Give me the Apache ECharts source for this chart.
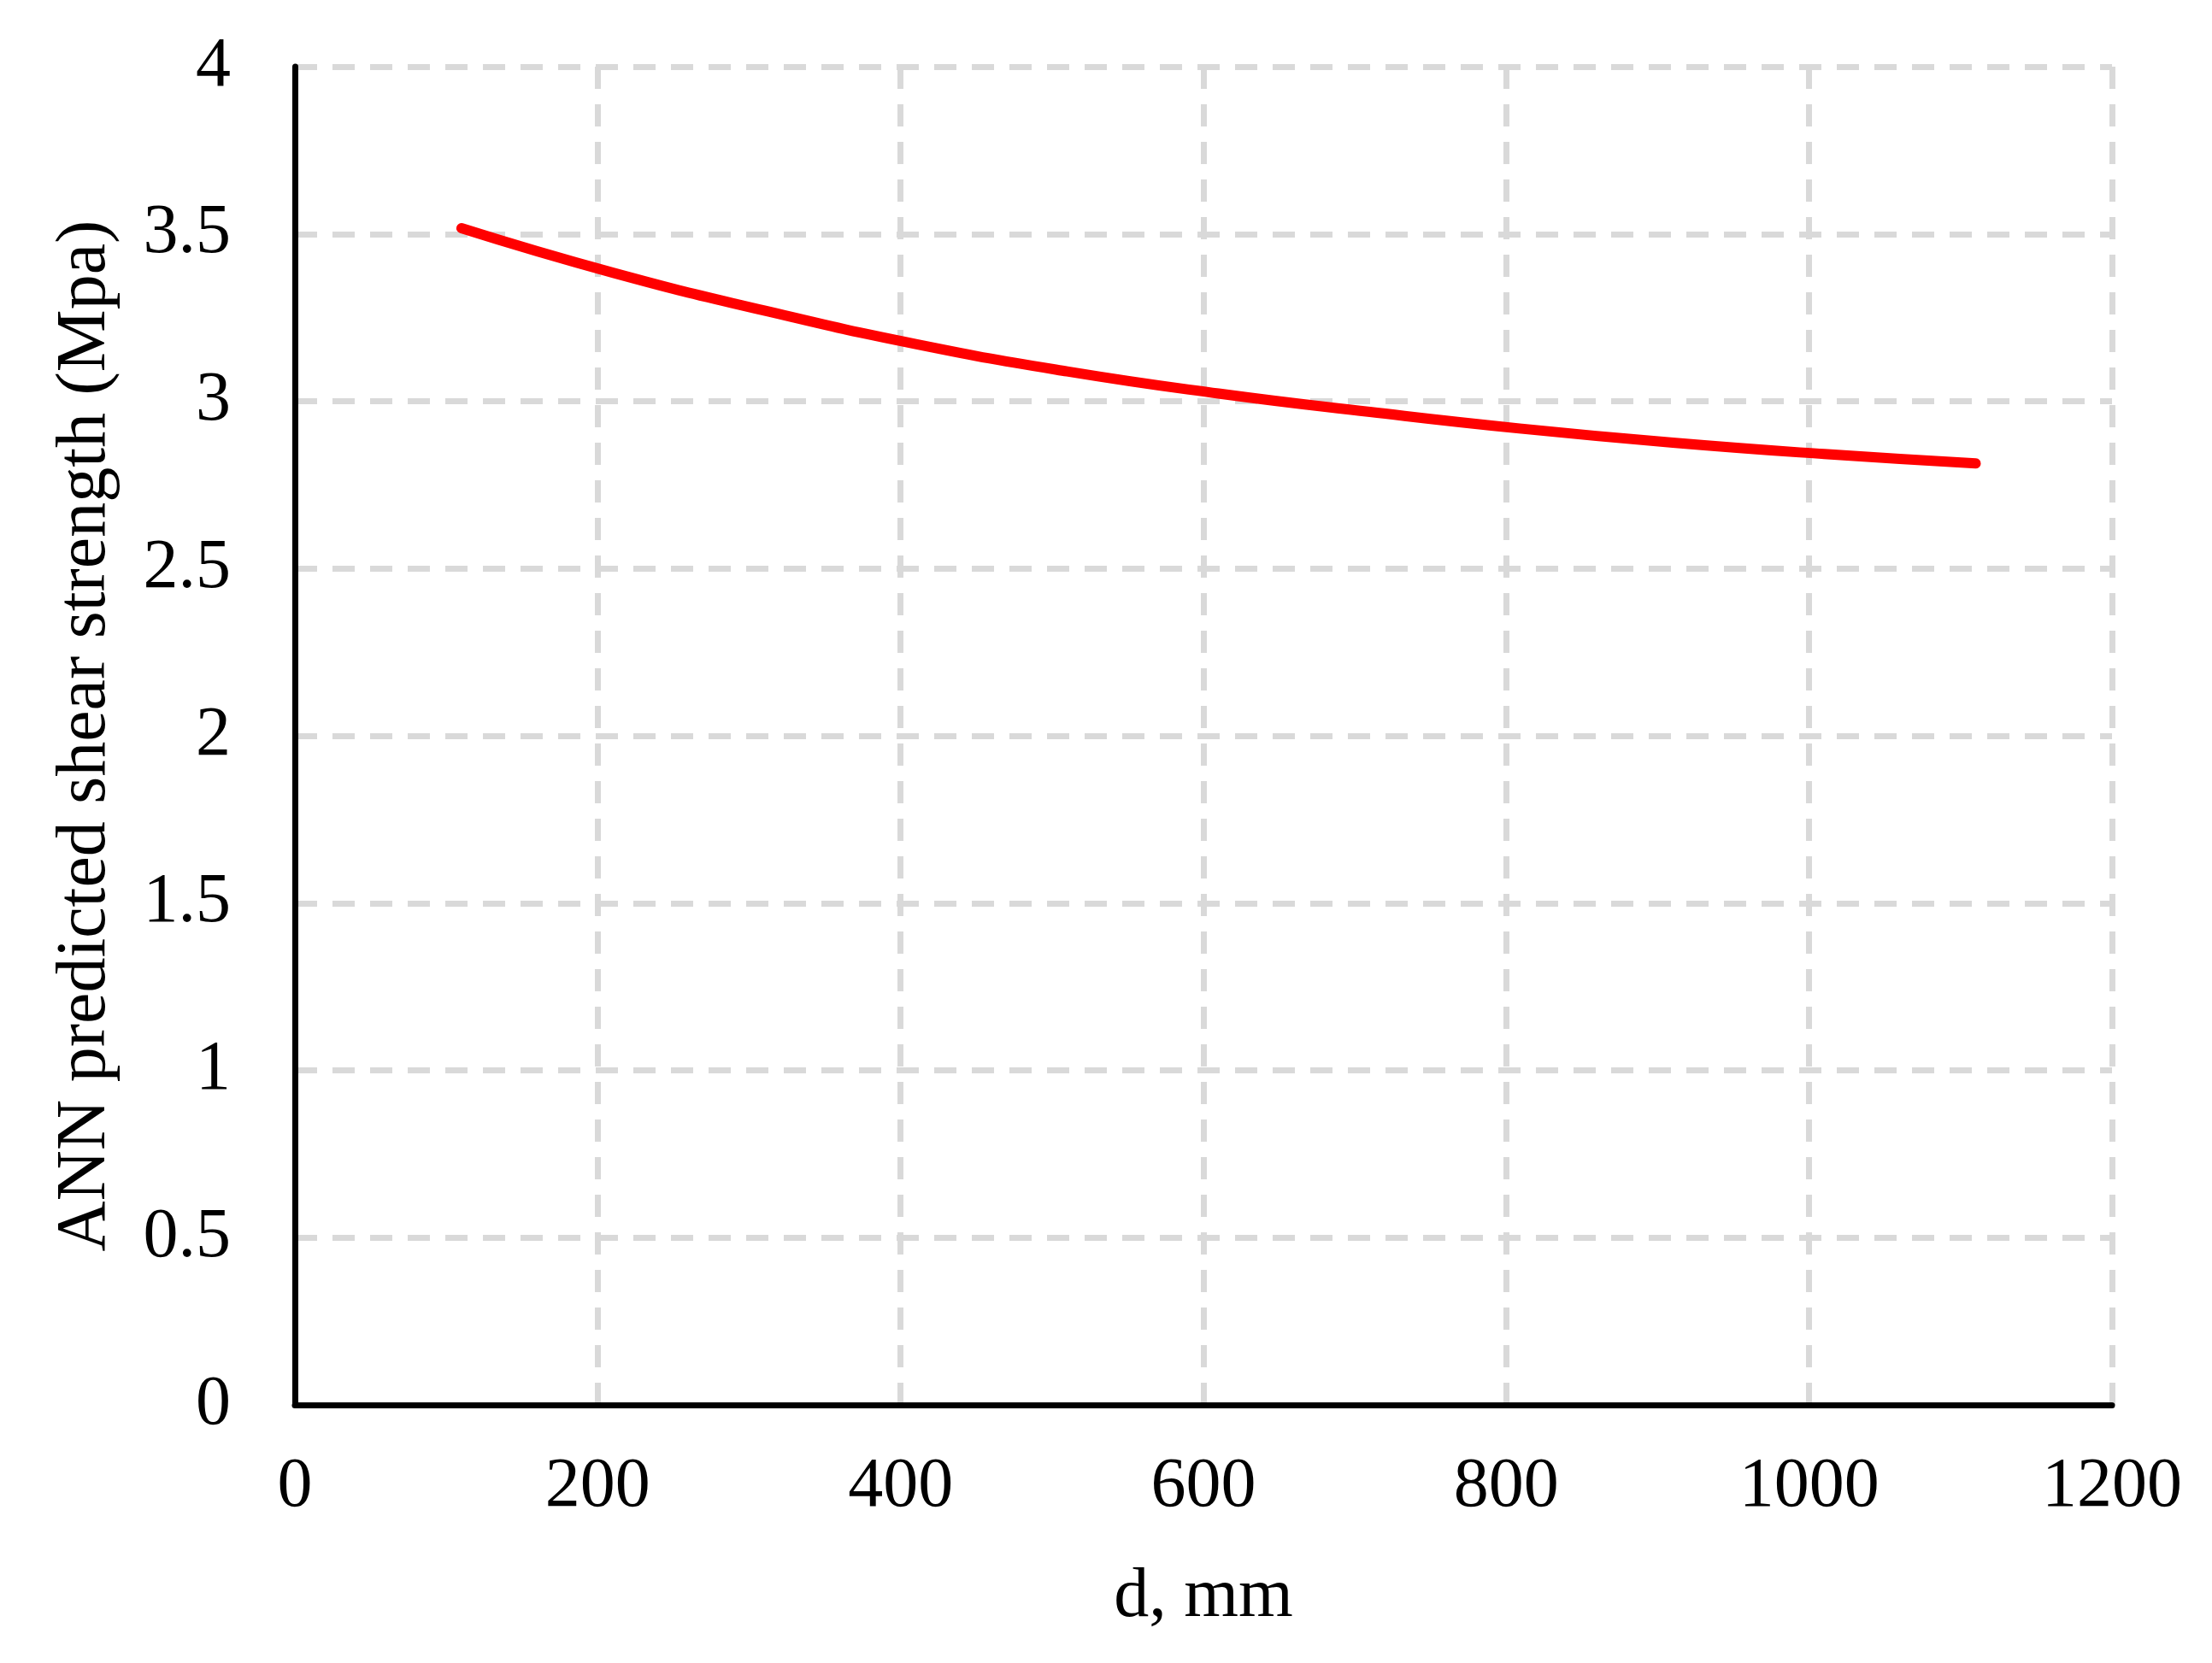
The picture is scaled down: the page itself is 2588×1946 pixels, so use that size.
<!DOCTYPE html>
<html>
<head>
<meta charset="utf-8">
<script src="https://cdn.jsdelivr.net/npm/echarts@6/dist/echarts.min.js"></script>
<style>
  html, body { margin: 0; padding: 0; background: #fff; }
  #chart { width: 2588px; height: 1946px; }
</style>
</head>
<body>
<div id="chart"></div>
<script>
// d (mm) and ANN predicted shear strength (MPa)
var depth = [110, 210, 310, 410, 510, 610, 710, 810, 910, 1010, 1110];
var strength = [3.517, 3.384, 3.271, 3.171, 3.089, 3.023, 2.968, 2.918, 2.876, 2.842, 2.814];

var serif = "'Liberation Serif', 'Times New Roman', serif";
var gridColor = '#d9d9d9';

var myChart = echarts.init(document.getElementById('chart'));
var option = {
    animation: false,
    backgroundColor: '#fff',
    grid: {
        left: 345,
        right: 117,
        top: 78,
        bottom: 302
    },
    xAxis: {
        type: 'value',
        min: 0,
        max: 1200,
        interval: 200,
        name: 'd, mm',
        nameLocation: 'middle',
        nameGap: 184,
        nameTextStyle: { fontFamily: serif, fontSize: 82, color: '#000' },
        axisLine: { show: true, onZero: false, lineStyle: { color: '#000', width: 7 } },
        axisTick: { show: false },
        axisLabel: {
            margin: 55,
            fontFamily: serif,
            fontSize: 82,
            color: '#000',
            formatter: function (v) { return String(v); }
        },
        splitLine: {
            show: true,
            lineStyle: { color: gridColor, width: 7, type: [26, 18] }
        }
    },
    yAxis: {
        type: 'value',
        min: 0,
        max: 4,
        interval: 0.5,
        name: 'ANN predicted shear strength (Mpa)',
        nameLocation: 'middle',
        nameGap: 204,
        nameTextStyle: { fontFamily: serif, fontSize: 82, color: '#000' },
        axisLine: { show: true, lineStyle: { color: '#000', width: 7 } },
        axisTick: { show: false },
        axisLabel: {
            margin: 75,
            fontFamily: serif,
            fontSize: 82,
            color: '#000',
            formatter: function (v) { return String(v); }
        },
        splitLine: {
            show: true,
            lineStyle: { color: gridColor, width: 7, type: [26, 18] }
        }
    },
    series: [{
        type: 'line',
        data: depth.map(function (d, i) { return [d, strength[i]]; }),
        smooth: true,
        showSymbol: false,
        lineStyle: { color: '#ff0000', width: 12, cap: 'round', join: 'round' },
        z: 5
    }]
};

option && myChart.setOption(option);
</script>
</body>
</html>
